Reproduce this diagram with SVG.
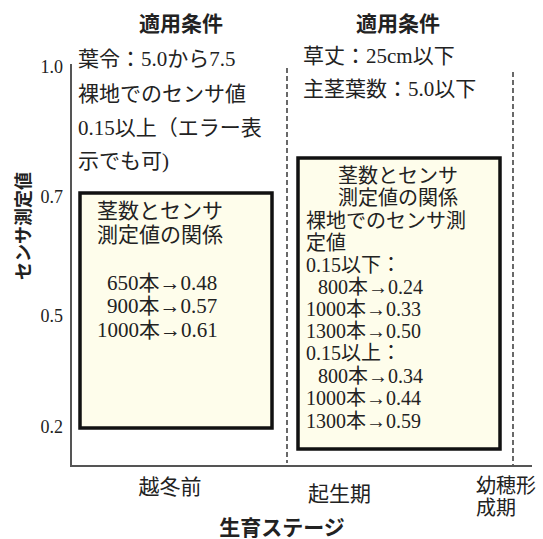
<svg xmlns="http://www.w3.org/2000/svg" width="543" height="539" viewBox="0 0 543 539">
<style>
text{font-family:"Liberation Serif","Noto Sans CJK JP",serif;fill:#222;}
.t{font-size:21px;}
.s{font-size:20px;}
.b{font-size:21px;font-weight:bold;}
.tick{font-size:18px;text-anchor:end;}
.box{fill:#fefdeb;stroke:#111;stroke-width:3.5;}
.axis{stroke:#555;stroke-width:2;fill:none;}
.dash{stroke:#444;stroke-width:1.6;stroke-dasharray:5 3;fill:none;}
</style>
<rect width="543" height="539" fill="#fff"/>
<g id="axes">
<line class="axis" x1="71" y1="64" x2="71" y2="466"/>
<line class="axis" x1="70" y1="466" x2="532" y2="466"/>
<text class="tick" x="63" y="73">1.0</text>
<text class="tick" x="63" y="203">0.7</text>
<text class="tick" x="63" y="322">0.5</text>
<text class="tick" x="63" y="433">0.2</text>
<text class="b" transform="translate(30,226) rotate(-90)" text-anchor="middle" style="font-size:18px">センサ測定値</text>
<text class="b" x="282" y="535" text-anchor="middle">生育ステージ</text>
<text class="t" x="170" y="494" text-anchor="middle">越冬前</text>
<text class="t" x="308" y="501">起生期</text>
<text class="s" x="476" y="493">幼穂形</text>
<text class="s" x="476" y="515">成期</text>
</g>
<g id="connectors">
<line class="dash" x1="287" y1="68" x2="287" y2="463"/>
<line class="dash" x1="513" y1="72" x2="513" y2="465"/>
</g>
<g id="cond-left">
<text class="b" x="181" y="31" text-anchor="middle">適用条件</text>
<text class="t" x="78" y="66">葉令：5.0から7.5</text>
<text class="t" x="78" y="101">裸地でのセンサ値</text>
<text class="t" x="78" y="135">0.15以上（エラー表</text>
<text class="t" x="78" y="168">示でも可)</text>
</g>
<g id="cond-right">
<text class="b" x="398" y="31" text-anchor="middle">適用条件</text>
<text class="t" x="303" y="63">草丈：25cm以下</text>
<text class="t" x="303" y="96">主茎葉数：5.0以下</text>
</g>
<g id="box-left">
<rect class="box" x="80" y="193" width="192" height="235"/>
<text class="t" x="97" y="218">茎数とセンサ</text>
<text class="t" x="97" y="242">測定値の関係</text>
<text class="t" x="107" y="290">650本→0.48</text>
<text class="t" x="107" y="313">900本→0.57</text>
<text class="t" x="97" y="337">1000本→0.61</text>
</g>
<g id="box-right">
<rect class="box" x="298" y="158" width="202" height="291"/>
<text class="s" x="398" y="183" text-anchor="middle">茎数とセンサ</text>
<text class="s" x="398" y="205" text-anchor="middle">測定値の関係</text>
<text class="s" x="306" y="228">裸地でのセンサ測</text>
<text class="s" x="306" y="250">定値</text>
<text class="s" x="306" y="272">0.15以下：</text>
<text class="s" x="318" y="294">800本→0.24</text>
<text class="s" x="306" y="316">1000本→0.33</text>
<text class="s" x="306" y="338">1300本→0.50</text>
<text class="s" x="306" y="360">0.15以上：</text>
<text class="s" x="318" y="383">800本→0.34</text>
<text class="s" x="306" y="405">1000本→0.44</text>
<text class="s" x="306" y="428">1300本→0.59</text>
</g>
</svg>
